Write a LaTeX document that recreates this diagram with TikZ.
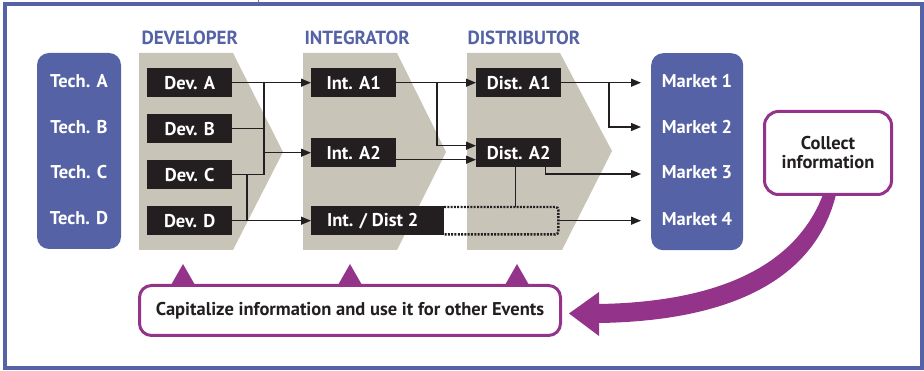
\documentclass[tikz,border=0pt]{standalone}
\usepackage{fontspec}
\setmainfont{PT Sans}
\usetikzlibrary{arrows.meta}
\definecolor{fblue}{HTML}{5563A6}
\definecolor{beige}{HTML}{C8C5B8}
\definecolor{dbox}{HTML}{231F20}
\definecolor{purp}{HTML}{93348A}
\begin{document}
\begin{tikzpicture}[x=1pt,y=-1pt,
  lbl/.style={font=\bfseries\fontsize{18.5}{19}\selectfont},
  blk/.style={lbl, fill=dbox, text=white, inner sep=0pt, minimum height=29pt, minimum width=85pt, anchor=north west},
  col/.style={fill=fblue, rounded corners=12pt},
  coltxt/.style={lbl, text=white},
  head/.style={font=\bfseries\fontsize{19}{20}\selectfont, text=fblue, anchor=west},
  ln/.style={draw=dbox, line width=1.3pt},
  arr/.style={ln, -{Triangle[length=10pt,width=8pt]}},
  pbox/.style={draw=purp, line width=3pt, fill=white, lbl, text=dbox, align=center},
  chevron/.style={fill=beige}
]
\useasboundingbox (0,0) rectangle (924,371);
% frame
\draw[fblue, line width=4pt] (5,4) -- (5,368.5) -- (921.8,368.5) -- (921.8,4) -- cycle;
\fill[white] (258,0) rectangle (283,2.5);
\draw[dbox!60, line width=0.4pt] (258,0) -- (258,2.5);
% headers
\node[head] (hdev) at (138,38) {DEVELOPER};
\node[head] (hint) at (301,38) {INTEGRATOR};
\node[head] (hdis) at (464,38) {DISTRIBUTOR};
% chevrons
\fill[chevron] (139,53) -- (233,53) -- (283,152) -- (233,250) -- (139,250) -- cycle;
\fill[chevron] (303,53) -- (397,53) -- (446,152) -- (397,250) -- (303,250) -- cycle;
\fill[chevron] (467,53) -- (560,53) -- (612,151) -- (562,250) -- (467,250) -- cycle;
% tech column
\fill[col] (37,53) rectangle (121,249);
\node[coltxt] (tA) at (79,81) {Tech. A};
\node[coltxt] (tB) at (79,127) {Tech. B};
\node[coltxt] (tC) at (79,172) {Tech. C};
\node[coltxt] (tD) at (79,218) {Tech. D};
% market column
\node[col, minimum width=92pt, minimum height=197pt, inner sep=0pt, anchor=north west] (mkt) at (651,53) {};
\node[coltxt] (m1) at (697,81) {Market 1};
\node[coltxt] (m2) at (697,127) {Market 2};
\node[coltxt] (m3) at (697,172) {Market 3};
\node[coltxt] (m4) at (697,219) {Market 4};
% boxes
\node[blk] (devA) at (147,68) {Dev. A};
\node[blk] (devB) at (147,114) {Dev. B};
\node[blk] (devC) at (147,160) {Dev. C};
\node[blk] (devD) at (147,206) {Dev. D};
\node[blk] (intA1) at (311,68) {Int. A1};
\node[blk] (intA2) at (311,138) {Int. A2};
\node[minimum width=114pt, minimum height=27pt, inner sep=0pt, anchor=north west] (dot) at (444,207) {};
\draw[dbox, line width=2.4pt, dash pattern=on 2pt off 1.3pt, rounded corners=3pt]
  (dot.north west) -- (dot.north east) -- (dot.south east) -- (dot.south west);
\node[blk, minimum width=133pt] (intD) at (311,206) {Int. / Dist 2\hspace*{10pt}};
\node[blk] (disA1) at (476,68) {Dist. A1};
\node[blk] (disA2) at (476,138) {Dist. A2};
% developer connectors
\coordinate (bus) at (264,82.5);
\coordinate (bus2) at (247,174.5);
\draw[arr] (devA.east) -- (intA1.west);
\draw[ln] (bus) -- (bus |- devC.east);
\draw[ln] (devB.east) -- (devB.east -| bus);
\draw[ln] (devC.east) -- (devC.east -| bus);
\draw[arr] (bus |- intA2.west) -- (intA2.west);
\draw[ln] (bus2) -- (bus2 |- devD.east);
\draw[arr] (devD.east) -- (intD.west);
% integrator connectors
\coordinate (ib) at (437,82.5);
\draw[arr] (intA1.east) -- (disA1.west);
\draw[arr] (ib) |- ([yshift=7pt]disA2.west);
\draw[arr] ([yshift=-7pt]intA2.east) -- ([yshift=-7pt]disA2.west);
% distributor connectors
\coordinate (db) at (609,82.5);
\draw[arr, shorten >=10pt] (disA1.east) -- (disA1.east -| mkt.west);
\draw[arr, shorten >=10pt] (db) |- (mkt.west |- m2);
\draw[arr, shorten >=10pt] ([xshift=-16pt]disA2.south east) |- (mkt.west |- 0,174);
\draw[ln] ([xshift=-3pt]disA2.south) -- ([xshift=-3pt]disA2.south |- dot.north);
\draw[arr, shorten >=10pt] (dot.east) -- (dot.east -| mkt.west);
% big arrow
\fill[purp] (823,194.5) .. controls (795,268) and (715,302) .. (599,304)
  -- (599,292) -- (569,313.5) -- (599,336) -- (599,323)
  .. controls (730,321) and (815,280) .. (836,194.5) -- cycle;
% capitalize
\fill[purp] (171,285) -- (183,264) -- (195,285) -- cycle;
\fill[purp] (338,285) -- (350,264) -- (362,285) -- cycle;
\fill[purp] (505,285) -- (517,264) -- (529,285) -- cycle;
\node[pbox, rounded corners=12pt, minimum width=421pt, minimum height=50pt] (cap) at (350,310.5) {Capitalize information and use it for other Events};
\node[pbox, rounded corners=14pt, minimum width=127pt, minimum height=83pt] (col) at (828,153) {Collect\\information};
\end{tikzpicture}
\end{document}
